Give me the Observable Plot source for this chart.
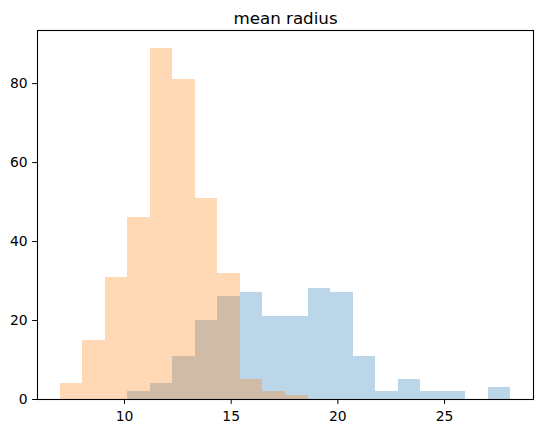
<!DOCTYPE html>
<html>
<head>
<meta charset="utf-8">
<script src="https://cdn.jsdelivr.net/npm/d3@7"></script>
<script src="https://cdn.jsdelivr.net/npm/@observablehq/plot@0.6"></script>
<style>
  html, body { margin: 0; padding: 0; background: white; }
</style>
</head>
<body>
<div id="chart"></div>
<script>
const title = "mean radius";
const binEdges = [6.981, 8.037, 9.094, 10.150, 11.207, 12.263, 13.320, 14.376, 15.433, 16.489,
                  17.546, 18.602, 19.658, 20.715, 21.771, 22.828, 23.884, 24.941, 25.997, 27.054, 28.110];
const malignant = [0, 0, 0, 2, 4, 11, 20, 26, 27, 21, 21, 28, 27, 11, 2, 5, 2, 2, 0, 3];
const benign    = [4, 15, 31, 46, 89, 81, 51, 32, 5, 2, 1, 0, 0, 0, 0, 0, 0, 0, 0, 0];
const xTicks = [10, 15, 20, 25];
const yTicks = [0, 20, 40, 60, 80];

const toBins = (counts) => counts.map((c, i) => ({x1: binEdges[i], x2: binEdges[i + 1], y: c})).filter(d => d.y > 0);
const malignantBins = toBins(malignant);
const benignBins = toBins(benign);

const lo = binEdges[0], hi = binEdges[binEdges.length - 1];
const pad = (hi - lo) * 0.05;
const yMax = d3.max([...malignant, ...benign]) * 1.05;

const chart = Plot.plot({
  width: 543,
  height: 433,
  marginLeft: 37,
  marginRight: 10,
  marginTop: 30,
  marginBottom: 34,
  style: {fontFamily: "DejaVu Sans", fontSize: "13.9px", color: "black", background: "white", overflow: "visible"},
  x: {domain: [lo - pad, hi + pad]},
  y: {domain: [0, yMax]},
  marks: [
    Plot.rectY(malignantBins, {x1: "x1", x2: "x2", y: "y", fill: "#1f77b4", fillOpacity: 0.3, shapeRendering: "crispEdges"}),
    Plot.rectY(benignBins, {x1: "x1", x2: "x2", y: "y", fill: "#ff7f0e", fillOpacity: 0.3, shapeRendering: "crispEdges"}),
    Plot.axisX({ticks: xTicks, tickSize: 4.9, tickPadding: 7, label: null, tickFormat: d => String(d)}),
    Plot.axisY({ticks: yTicks, tickSize: 4.9, tickPadding: 4.9, label: null, tickFormat: d => String(d)}),
    Plot.frame({stroke: "black", strokeWidth: 1.1}),
    Plot.text([title], {frameAnchor: "top", lineAnchor: "bottom", dy: -7, fontSize: 16.7, fill: "black"})
  ]
});
document.getElementById("chart").appendChild(chart);
</script>
</body>
</html>
